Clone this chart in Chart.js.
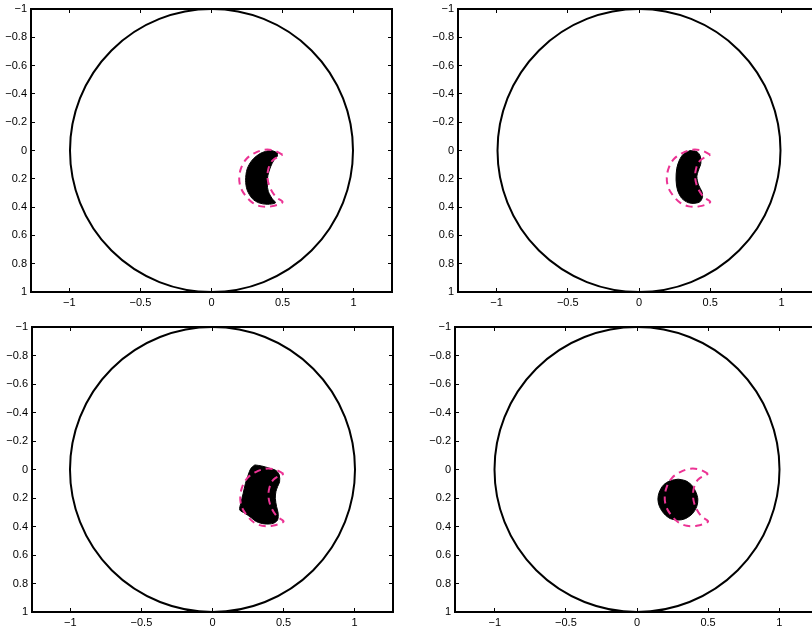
<!DOCTYPE html>
<html>
<head>
<meta charset="utf-8">
<script src="https://cdn.jsdelivr.net/npm/chart.js@4/dist/chart.umd.min.js"></script>
<style>
  html, body { margin:0; padding:0; background:#fff; overflow:hidden; width:812px; height:631px; }
  #wrap { position:relative; width:812px; height:631px; overflow:hidden; }
  canvas { position:absolute; }
</style>
</head>
<body>
<div id="wrap">
  <canvas id="c0" width="412" height="320" style="left:0px;top:0px"></canvas>
  <canvas id="c1" width="430" height="320" style="left:420px;top:0px"></canvas>
  <canvas id="c2" width="412" height="313" style="left:0px;top:318px"></canvas>
  <canvas id="c3" width="430" height="313" style="left:420px;top:318px"></canvas>
</div>
<script>
// ---- tick labels ----
const xTicks = [-1, -0.5, 0, 0.5, 1];
const yTicks = [-1, -0.8, -0.6, -0.4, -0.2, 0, 0.2, 0.4, 0.6, 0.8, 1];

// ---- domain boundary (unit circle) ----
const domainCenterX = [0];
const domainCenterY = [0];
const domainRadius = 1;

// ---- true inclusion (dashed crescent, same in every panel) ----
const targetX = [0.50, 0.44, 0.37, 0.30, 0.245, 0.21, 0.195, 0.205, 0.24, 0.29, 0.35, 0.42, 0.50, 0.455, 0.415, 0.395, 0.40, 0.43, 0.50];
const targetY = [0.03, 0.00, -0.005, 0.02, 0.06, 0.12, 0.19, 0.26, 0.32, 0.37, 0.395, 0.395, 0.365, 0.33, 0.27, 0.20, 0.13, 0.07, 0.03];

// ---- reconstructions (black regions) ----
const recon1X = [0.463, 0.416, 0.345, 0.287, 0.251, 0.24, 0.251, 0.287, 0.333, 0.392, 0.45, 0.427, 0.40, 0.392, 0.397, 0.416, 0.44, 0.463];
const recon1Y = [0.015, 0.00, 0.02, 0.067, 0.13, 0.21, 0.28, 0.34, 0.37, 0.38, 0.37, 0.34, 0.29, 0.235, 0.175, 0.115, 0.067, 0.04];

const recon2X = [0.359, 0.406, 0.43, 0.434, 0.418, 0.406, 0.418, 0.441, 0.446, 0.43, 0.394, 0.347, 0.30, 0.27, 0.26, 0.265, 0.284, 0.312];
const recon2Y = [0.00, 0.008, 0.04, 0.09, 0.138, 0.185, 0.244, 0.29, 0.326, 0.36, 0.373, 0.369, 0.338, 0.279, 0.208, 0.126, 0.067, 0.025];

const recon3X = [0.298, 0.345, 0.404, 0.448, 0.47, 0.472, 0.458, 0.446, 0.442, 0.451, 0.462, 0.458, 0.427, 0.368, 0.31, 0.263, 0.228, 0.192, 0.199, 0.216, 0.232, 0.251, 0.27];
const recon3Y = [-0.032, -0.025, -0.008, 0.008, 0.039, 0.086, 0.12, 0.156, 0.202, 0.261, 0.307, 0.354, 0.378, 0.382, 0.366, 0.331, 0.307, 0.284, 0.237, 0.167, 0.097, 0.039, -0.008];

const recon4X = [0.29, 0.34, 0.385, 0.415, 0.428, 0.42, 0.39, 0.34, 0.29, 0.235, 0.19, 0.158, 0.147, 0.156, 0.185, 0.235];
const recon4Y = [0.068, 0.078, 0.11, 0.16, 0.21, 0.26, 0.31, 0.345, 0.355, 0.345, 0.31, 0.26, 0.21, 0.16, 0.11, 0.078];

const reconX = [recon1X, recon2X, recon3X, recon4X];
const reconY = [recon1Y, recon2Y, recon3Y, recon4Y];

// ---- layout (geometry only) ----
const panels = [
  { id:'c0', padTop:9, padRight:20, yW:31, xH:28, xr:1.27 },
  { id:'c1', padTop:9, padRight:30, yW:38, xH:28, xr:1.27 },
  { id:'c2', padTop:9, padRight:19, yW:32, xH:19, xr:1.27 },
  { id:'c3', padTop:9, padRight:31, yW:35, xH:19, xr:1.28 }
];

const FONT = { family: '"Liberation Sans", Arial, Helvetica, sans-serif', size: 11 };
const fmt = v => (v < 0 ? '\u2212' + String(-v) : String(v));
const toPts = (xs, ys) => { const p = xs.map((x, i) => ({ x, y: ys[i] })); p.push({ x: xs[0], y: ys[0] }); return p; };

function axis(pos, opts) {
  const horiz = pos === 'top' || pos === 'bottom';
  const list = horiz ? xTicks : yTicks;
  return Object.assign({
    type: 'linear',
    position: pos,
    afterBuildTicks: s => { s.ticks = list.map(v => ({ value: v })); },
    ticks: { display: opts.labels, callback: v => fmt(v), font: FONT, color: '#000', padding: 8, maxRotation: 0, autoSkip: false },
    grid: { drawOnChartArea: false, drawTicks: true, tickLength: -4, color: '#000', lineWidth: 1 },
    border: { display: true, color: '#000', width: 2 },
    afterFit: s => {
      if (horiz) s.height = opts.size; else s.width = opts.size;
      s.paddingTop = 0; s.paddingBottom = 0; s.paddingLeft = 0; s.paddingRight = 0;
    }
  }, opts.extra);
}

panels.forEach((p, k) => {
  const ctx = document.getElementById(p.id);
  new Chart(ctx, {
    type: 'scatter',
    data: {
      datasets: [
        {
          data: toPts(targetX, targetY),
          showLine: true, fill: false, tension: 0.35,
          borderColor: '#ec3394', borderWidth: 2, borderDash: [7, 5],
          pointRadius: 0
        },
        {
          data: toPts(reconX[k], reconY[k]),
          showLine: true, fill: 'shape', tension: 0.3,
          backgroundColor: '#000', borderColor: '#000', borderWidth: 1,
          pointRadius: 0
        },
        {
          data: domainCenterX.map((x, i) => ({ x, y: domainCenterY[i] })),
          showLine: false, clip: false,
          pointStyle: 'circle',
          pointRadius: c => { const s = c.chart.scales.y; return Math.abs(s.getPixelForValue(domainRadius) - s.getPixelForValue(0)); },
          backgroundColor: 'rgba(0,0,0,0)', borderColor: '#000', pointBorderWidth: 2, borderWidth: 2
        }
      ]
    },
    options: {
      responsive: false,
      animation: false,
      events: [],
      devicePixelRatio: 1,
      layout: { padding: { top: p.padTop, right: p.padRight, left: 0, bottom: 0 } },
      plugins: { legend: { display: false }, tooltip: { enabled: false } },
      scales: {
        x: axis('bottom', { labels: true, size: p.xH, extra: { min: -p.xr, max: p.xr } }),
        x2: axis('top', { labels: false, size: 0, extra: { min: -p.xr, max: p.xr } }),
        y: axis('left', { labels: true, size: p.yW, extra: { min: -1, max: 1, reverse: true } }),
        y2: axis('right', { labels: false, size: 0, extra: { min: -1, max: 1, reverse: true } })
      }
    }
  });
});
</script>
</body>
</html>
